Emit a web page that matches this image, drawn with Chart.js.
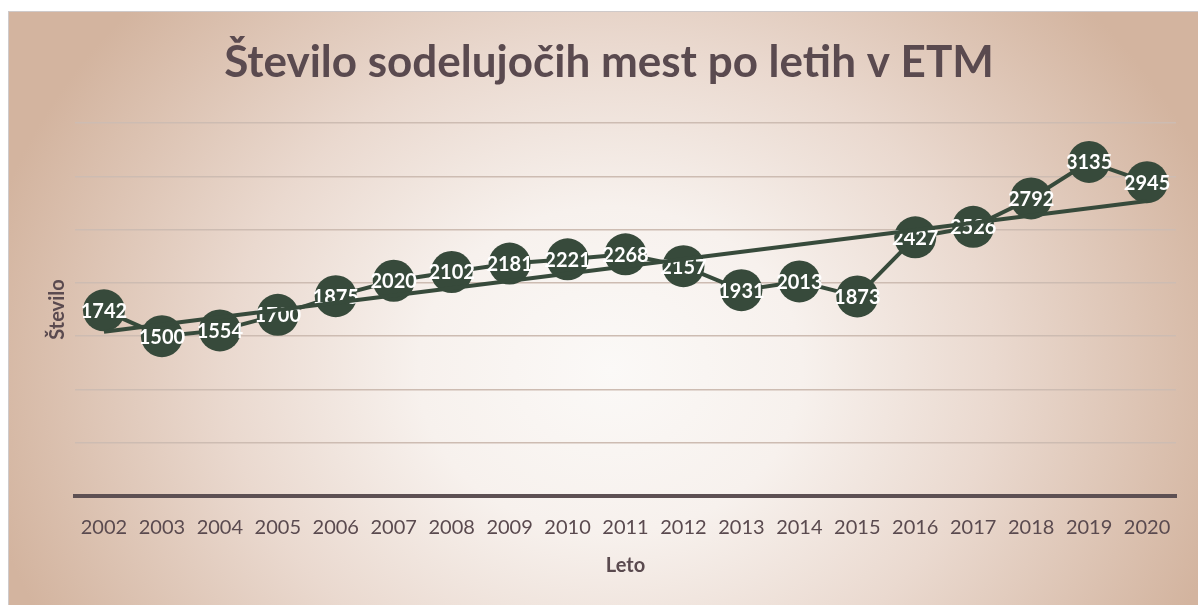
<!DOCTYPE html>
<html>
<head>
<meta charset="utf-8">
<script src="https://cdn.jsdelivr.net/npm/chart.js@4"></script>
<style>
  html, body { margin: 0; padding: 0; background: #ffffff; }
  #wrap { width: 1198px; height: 605px; position: relative; }
</style>
</head>
<body>
<div id="wrap"><canvas id="myChart"></canvas></div>
<script>
const years = ["2002", "2003", "2004", "2005", "2006", "2007", "2008", "2009", "2010", "2011",
  "2012", "2013", "2014", "2015", "2016", "2017", "2018", "2019", "2020"];
const cities = [1742, 1500, 1554, 1700, 1875, 2020, 2102, 2181, 2221, 2268,
  2157, 1931, 2013, 1873, 2427, 2526, 2792, 3135, 2945];
// linear trend, read at the first and last year
const trendYears = ["2002", "2020"];
const trendValues = [1542, 2769];

const chartTitle = "Število sodelujočih mest po letih v ETM";
const darkGreen = "#374a3b";
const textColor = "#5a4a4f";

// background, frame, title and data labels
const decorPlugin = {
  id: "decor",
  beforeDraw(chart) {
    const ctx = chart.ctx;
    ctx.save();
    ctx.translate(610, 370);
    ctx.scale(1, 0.85);
    let g = ctx.createRadialGradient(0, 0, 0, 0, 0, 640);
    g.addColorStop(0, "#fbf9f7");
    g.addColorStop(0.3, "#f7f1ed");
    g.addColorStop(0.6, "#ead9cf");
    g.addColorStop(1, "#d3b49f");
    ctx.fillStyle = g;
    ctx.fillRect(-620, -460, 1240, 920);
    ctx.restore();
    ctx.save();
    ctx.fillStyle = "#ffffff";
    ctx.fillRect(0, 0, 1198, 11);
    ctx.fillRect(0, 0, 8, 605);
    ctx.strokeStyle = "#cfcaca";
    ctx.lineWidth = 1;
    ctx.strokeRect(8.5, 11.5, 1192, 600);
    // title
    ctx.fillStyle = textColor;
    ctx.font = "bold 44px Lato";
    ctx.textAlign = "center";
    ctx.textBaseline = "middle";
    ctx.fillText(chartTitle, 609, 63);
    ctx.restore();
  },
  afterDatasetDraw(chart, args) {
    if (args.index !== 0) return;
    const ctx = chart.ctx;
    const meta = chart.getDatasetMeta(0);
    ctx.save();
    ctx.fillStyle = "#ffffff";
    ctx.font = "bold 20px Lato";
    ctx.textAlign = "center";
    ctx.textBaseline = "middle";
    meta.data.forEach((pt, i) => {
      ctx.fillText(cities[i], pt.x, pt.y + 1);
    });
    ctx.restore();
  }
};

function renderChart() {
  const ctx = document.getElementById("myChart");
  new Chart(ctx, {
    type: "line",
    data: {
      labels: years,
      datasets: [
        {
          label: "Število",
          data: cities,
          borderColor: darkGreen,
          backgroundColor: darkGreen,
          borderWidth: 4,
          pointRadius: 21,
          pointHoverRadius: 21,
          pointBorderWidth: 0,
          pointBackgroundColor: darkGreen,
          tension: 0,
          clip: false,
          order: 1,
        },
        {
          label: "Trend",
          data: trendYears.map((y, i) => ({ x: y, y: trendValues[i] })),
          borderColor: darkGreen,
          borderWidth: 4,
          pointRadius: 0,
          tension: 0,
          clip: false,
          order: 0,
        },
      ],
    },
    options: {
      responsive: true,
      maintainAspectRatio: false,
      animation: false,
      layout: { padding: { left: 0, right: 22, top: 123, bottom: 0 } },
      plugins: {
        legend: { display: false },
        tooltip: { enabled: false },
        title: { display: false },
      },
      scales: {
        x: {
          offset: true,
          grid: { display: false, drawTicks: false },
          border: { display: true, color: "#5d5053", width: 4 },
          ticks: {
            color: textColor,
            font: { family: "Lato", size: 20 },
            padding: 20,
            maxRotation: 0,
            autoSkip: false,
          },
          title: {
            display: true,
            text: "Leto",
            color: textColor,
            font: { family: "Lato", size: 20, weight: "bold", lineHeight: 1.2 },
            padding: { top: 0, bottom: 27 },
          },
          afterFit(scale) { scale.height = 109; },
        },
        y: {
          min: 0,
          max: 3500,
          ticks: { stepSize: 500, display: false },
          grid: { color: "#cdbcb2", lineWidth: 1.5, drawTicks: false },
          border: { display: false },
          title: {
            display: true,
            text: "Število",
            color: textColor,
            font: { family: "Lato", size: 20, weight: "bold", lineHeight: 1.2 },
            padding: { top: 46, bottom: 0 },
          },
          afterFit(scale) { scale.width = 75; },
        },
      },
    },
    plugins: [decorPlugin],
  });
}

renderChart();
</script>
</body>
</html>
